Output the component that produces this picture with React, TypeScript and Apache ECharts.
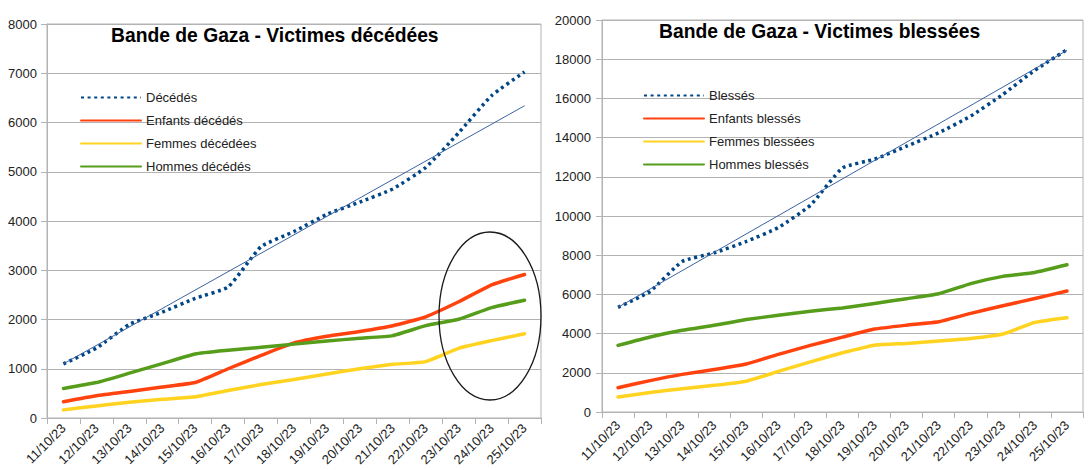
import React, { useEffect, useRef } from "react";
import * as echarts from "echarts";

// Dates (x axis categories shared by both charts)
const dates = [
  "11/10/23", "12/10/23", "13/10/23", "14/10/23", "15/10/23",
  "16/10/23", "17/10/23", "18/10/23", "19/10/23", "20/10/23",
  "21/10/23", "22/10/23", "23/10/23", "24/10/23", "25/10/23",
];

// Victimes décédées
const decedes = [1100, 1420, 1900, 2150, 2430, 2660, 3480, 3785, 4137, 4385, 4651, 5087, 5791, 6546, 7028];
const enfantsDecedes = [330, 450, 540, 630, 720, 1000, 1270, 1525, 1660, 1756, 1873, 2055, 2360, 2704, 2913];
const femmesDecedees = [165, 245, 320, 380, 430, 560, 680, 780, 894, 1000, 1090, 1145, 1415, 1571, 1709];
const hommesDecedes = [600, 720, 910, 1105, 1300, 1375, 1436, 1500, 1564, 1618, 1672, 1875, 2004, 2241, 2390];
// linear trend of the total: value at first and last date
const tendanceDecedes = [1100, 6340];

// Victimes blessées
const blesses = [5340, 6150, 7680, 8120, 8700, 9410, 10550, 12450, 12900, 13561, 14245, 15100, 16200, 17439, 18484];
const enfantsBlesses = [1240, 1600, 1920, 2170, 2450, 2940, 3400, 3820, 4230, 4430, 4600, 5030, 5420, 5790, 6170];
const femmesBlessees = [770, 990, 1190, 1360, 1570, 2070, 2560, 3020, 3410, 3500, 3620, 3750, 3980, 4570, 4810];
const hommesBlesses = [3400, 3830, 4170, 4425, 4715, 4936, 5140, 5311, 5538, 5780, 6030, 6550, 6920, 7120, 7510];
const tendanceBlesses = [5340, 18450];

const FONT = "'Liberation Sans', Arial, sans-serif";
const GRID_COLOR = "#b3b3b3";
const BLUE = "#004586";
const RED = "#ff420e";
const YELLOW = "#ffd320";
const GREEN = "#579d1c";
const TREND = "#3a63a0";

const trendData = (ends: number[]) =>
  dates.map((_, i) => (i === 0 ? ends[0] : i === dates.length - 1 ? ends[1] : null));

const solid = (name: string, color: string, data: number[], idx: number) => ({
  name,
  type: "line",
  xAxisIndex: idx,
  yAxisIndex: idx,
  data,
  symbol: "none",
  smooth: 0.15,
  color,
  lineStyle: { color, width: 3.5, cap: "round", join: "round" },
});

const dotted = (name: string, data: number[], idx: number) => ({
  name,
  type: "line",
  xAxisIndex: idx,
  yAxisIndex: idx,
  data,
  symbol: "none",
  smooth: 0.15,
  color: BLUE,
  lineStyle: { color: BLUE, width: 3.5, type: [3, 3.6], cap: "butt" },
});

const trend = (name: string, ends: number[], idx: number) => ({
  name,
  type: "line",
  xAxisIndex: idx,
  yAxisIndex: idx,
  data: trendData(ends),
  connectNulls: true,
  symbol: "none",
  color: TREND,
  lineStyle: { color: TREND, width: 1 },
  z: 5,
});

const xAxis = (idx: number, margin: number) => ({
  type: "category",
  gridIndex: idx,
  data: dates,
  boundaryGap: true,
  axisLine: { show: true, lineStyle: { color: GRID_COLOR, width: 1 } },
  axisTick: { show: true, length: 6, alignWithLabel: false, lineStyle: { color: GRID_COLOR } },
  axisLabel: {
    rotate: 45,
    interval: 0,
    margin,
    fontFamily: FONT,
    fontSize: 13,
    color: "#222",
  },
  splitLine: { show: false },
});

const yAxis = (idx: number, max: number, interval: number, margin: number) => ({
  type: "value",
  gridIndex: idx,
  min: 0,
  max,
  interval,
  axisLine: { show: true, lineStyle: { color: GRID_COLOR, width: 1 } },
  axisTick: { show: true, length: 6, lineStyle: { color: GRID_COLOR } },
  axisLabel: {
    margin,
    fontFamily: FONT,
    fontSize: 13,
    color: "#222",
    formatter: (v: number) => String(v),
  },
  splitLine: { show: true, lineStyle: { color: GRID_COLOR, width: 1 } },
});

const legend = (names: string[], left: number, top: number) => ({
  data: names,
  orient: "vertical",
  left,
  top,
  padding: 0,
  itemWidth: 60,
  itemHeight: 14,
  itemGap: 10,
  itemStyle: { opacity: 0 },
  textStyle: { fontFamily: FONT, fontSize: 13, color: "#222" },
  selectedMode: false,
});

export default function App() {
  const ref = useRef<HTMLDivElement>(null);

  useEffect(() => {
    if (!ref.current) return;
    const chart = echarts.init(ref.current, undefined, { renderer: "svg" });
    chart.setOption({
      animation: false,
      backgroundColor: "#ffffff",
      title: [
        {
          text: "Bande de Gaza - Victimes décédées",
          left: 111,
          top: 26,
          padding: 0,
          textStyle: { fontFamily: FONT, fontSize: 19.3, fontWeight: "bold", color: "#000" },
        },
        {
          text: "Bande de Gaza - Victimes blessées",
          left: 659,
          top: 22,
          padding: 0,
          textStyle: { fontFamily: FONT, fontSize: 19.3, fontWeight: "bold", color: "#000" },
        },
      ],
      legend: [
        legend(["Décédés", "Enfants décédés", "Femmes décédées", "Hommes décédés"], 80, 91),
        legend(["Blessés", "Enfants blessés", "Femmes blessées", "Hommes blessés"], 643, 89),
      ],
      grid: [
        {
          left: 47, top: 24, width: 494, height: 394,
          show: true, borderColor: GRID_COLOR, borderWidth: 1,
          containLabel: false, outerBoundsMode: "none",
        },
        {
          left: 602, top: 20, width: 481, height: 392,
          show: true, borderColor: GRID_COLOR, borderWidth: 1,
          containLabel: false, outerBoundsMode: "none",
        },
      ],
      xAxis: [xAxis(0, 8), xAxis(1, 11)],
      yAxis: [yAxis(0, 8000, 1000, 10), yAxis(1, 20000, 2000, 11)],
      series: [
        dotted("Décédés", decedes, 0),
        solid("Enfants décédés", RED, enfantsDecedes, 0),
        solid("Femmes décédées", YELLOW, femmesDecedees, 0),
        solid("Hommes décédés", GREEN, hommesDecedes, 0),
        trend("Tendance décédés", tendanceDecedes, 0),
        dotted("Blessés", blesses, 1),
        solid("Enfants blessés", RED, enfantsBlesses, 1),
        solid("Femmes blessées", YELLOW, femmesBlessees, 1),
        solid("Hommes blessés", GREEN, hommesBlesses, 1),
        trend("Tendance blessés", tendanceBlesses, 1),
      ],
      graphic: [
        {
          type: "ellipse",
          shape: { cx: 490, cy: 316, rx: 51, ry: 84 },
          style: { fill: "none", stroke: "#1a1a1a", lineWidth: 1.3 },
          z: 100,
        },
      ],
    });
    return () => chart.dispose();
  }, []);

  return (
    <div
      ref={ref}
      style={{ position: "fixed", left: 0, top: 0, width: 1091, height: 470, background: "#fff" }}
    />
  );
}
